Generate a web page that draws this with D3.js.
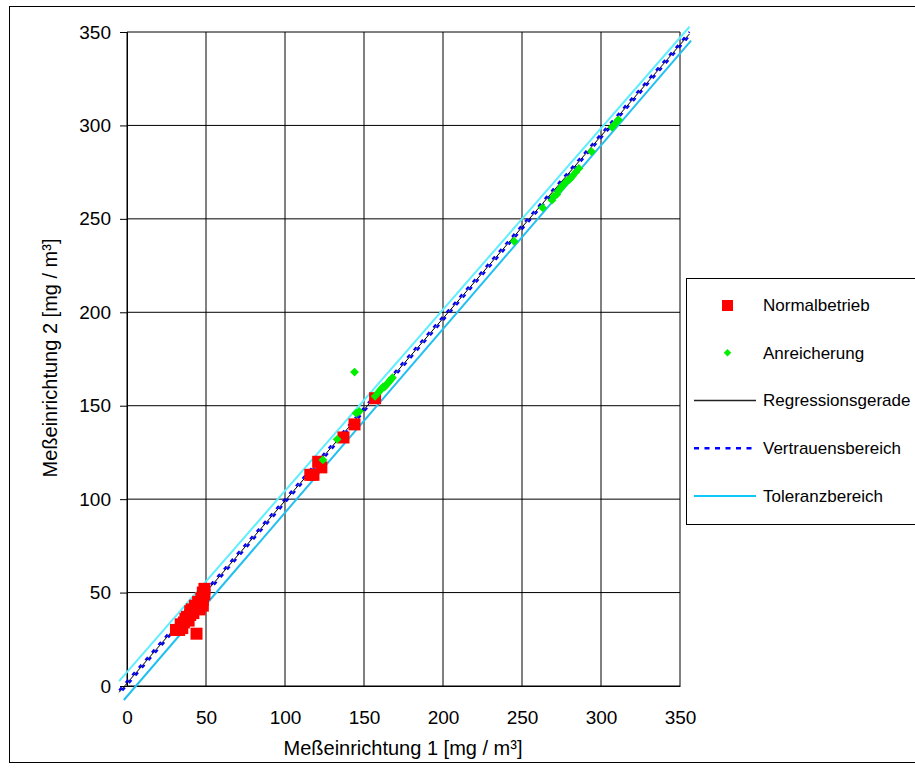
<!DOCTYPE html>
<html>
<head>
<meta charset="utf-8">
<script src="https://cdnjs.cloudflare.com/ajax/libs/d3/7.8.5/d3.min.js"></script>
<style>
  body { margin: 0; background: #fff; }
  text { font-family: "Liberation Sans", Arial, sans-serif; fill: #000; }
</style>
</head>
<body>
<script>
// Normalbetrieb (red squares)
var normX = [31, 33, 35, 34, 36, 37, 38, 39, 40, 40, 41, 42, 43, 44, 45, 46, 46, 47, 48, 48, 49, 49, 48, 44,
             116, 118, 121, 123, 137, 144, 157];
var normY = [30, 30, 31, 33, 34, 36, 37, 35, 38, 40, 41, 39, 43, 42, 45, 44, 41, 47, 46, 43, 49, 52, 50, 28,
             113, 113, 120, 117, 133, 140, 154];

// Anreicherung (green diamonds)
var anrX = [124, 133, 145, 147, 144, 157, 159, 160, 161, 162, 163, 164, 165, 166, 167, 168,
            245, 263, 269, 270, 272, 273, 274, 275, 276, 277, 278, 280, 281, 282, 284, 286, 294, 307, 309, 311];
var anrY = [121, 132, 146, 147, 168, 155, 157, 158, 159, 160, 160, 161, 162, 163, 164, 165,
            238, 256, 260, 262, 263, 265, 266, 267, 268, 269, 270, 271, 272, 273, 275, 277, 286, 299, 301, 303];

// line end points [x0, x1], [y0, y1]
var regX = [-5, 356], regY = [-3.4, 349];
var vbOben = [-2.3, 350.1], vbUnten = [-4.5, 347.9];
var tolObenX = [-5, 356], tolObenY = [2.6, 352.8];
var tolUntenX = [-2, 357], tolUntenY = [-7.5, 345.4];

var ticks = [0, 50, 100, 150, 200, 250, 300, 350];
var legendNames = ["Normalbetrieb", "Anreicherung", "Regressionsgerade", "Vertrauensbereich", "Toleranzbereich"];

var W = 915, H = 769;
var svg = d3.select("body").append("svg").attr("width", W).attr("height", H);
svg.append("rect").attr("width", W).attr("height", H).attr("fill", "#fff");
// outer chart frame
svg.append("rect").attr("x", 9.5).attr("y", 6.5).attr("width", 920).attr("height", 756)
    .attr("fill", "none").attr("stroke", "#000").attr("stroke-width", 1);

var x = d3.scaleLinear().domain([0, 350]).range([127, 680]);
var y = d3.scaleLinear().domain([0, 350]).range([686, 32]);

// grid
var grid = svg.append("g");
grid.selectAll(".gx").data(ticks).enter().append("line")
    .attr("x1", function (d) { return x(d); }).attr("x2", function (d) { return x(d); })
    .attr("y1", y(0)).attr("y2", y(350))
    .attr("stroke", "#000").attr("stroke-width", 1);
grid.selectAll(".gy").data(ticks).enter().append("line")
    .attr("x1", x(0)).attr("x2", x(350))
    .attr("y1", function (d) { return y(d); }).attr("y2", function (d) { return y(d); })
    .attr("stroke", "#000").attr("stroke-width", 1);

// axes
var xAxis = svg.append("g").attr("transform", "translate(0," + y(0) + ")")
    .call(d3.axisBottom(x).tickValues(ticks).tickSize(0).tickPadding(25).tickFormat(d3.format("d")));
var yAxis = svg.append("g").attr("transform", "translate(" + x(0) + ",0)")
    .call(d3.axisLeft(y).tickValues(ticks).tickSize(7).tickPadding(9).tickFormat(d3.format("d")));
[xAxis, yAxis].forEach(function (a) {
    a.select(".domain").attr("stroke", "#000");
    a.selectAll("line").attr("stroke", "#000");
    a.selectAll("text").attr("font-size", 19).attr("font-family", "Liberation Sans, Arial, sans-serif").attr("fill", "#000");
});

// lines
var line = d3.line().x(function (d) { return x(d[0]); }).y(function (d) { return y(d[1]); });
function pts(xs, ys) { return xs.map(function (v, i) { return [v, ys[i]]; }); }

svg.append("path").attr("d", line(pts(tolObenX, tolObenY)))
    .attr("stroke", "#5eeeff").attr("stroke-width", 2).attr("fill", "none");
svg.append("path").attr("d", line(pts(tolUntenX, tolUntenY)))
    .attr("stroke", "#22c0f0").attr("stroke-width", 2).attr("fill", "none");
svg.append("path").attr("d", line(pts(regX, regY)))
    .attr("stroke", "#000").attr("stroke-width", 1).attr("fill", "none");
svg.append("path").attr("d", line(pts(regX, vbOben)))
    .attr("stroke", "#0000ff").attr("stroke-width", 2).attr("stroke-dasharray", "4,6").attr("fill", "none");
svg.append("path").attr("d", line(pts(regX, vbUnten)))
    .attr("stroke", "#0000ff").attr("stroke-width", 2).attr("stroke-dasharray", "4,6")
    .attr("stroke-dashoffset", 5).attr("fill", "none");

// points
var sq = 12;
svg.append("g").selectAll("rect").data(pts(normX, normY)).enter().append("rect")
    .attr("x", function (d) { return x(d[0]) - sq / 2; })
    .attr("y", function (d) { return y(d[1]) - sq / 2; })
    .attr("width", sq).attr("height", sq).attr("fill", "#ff0000");
var diamond = d3.symbol().type(d3.symbolDiamond2).size(50);
svg.append("g").selectAll("path").data(pts(anrX, anrY)).enter().append("path")
    .attr("d", diamond)
    .attr("transform", function (d) { return "translate(" + x(d[0]) + "," + y(d[1]) + ")"; })
    .attr("fill", "#00ee00");

// axis titles
svg.append("text").attr("x", 403).attr("y", 755).attr("text-anchor", "middle")
    .attr("font-size", 20).text("Meßeinrichtung 1 [mg / m³]");
svg.append("text").attr("transform", "translate(57,358) rotate(-90)").attr("text-anchor", "middle")
    .attr("font-size", 20).text("Meßeinrichtung 2 [mg / m³]");

// legend
var leg = svg.append("g");
leg.append("rect").attr("x", 686.5).attr("y", 278.5).attr("width", 240).attr("height", 246)
    .attr("fill", "#fff").attr("stroke", "#000").attr("stroke-width", 1);
var rowY = d3.scalePoint().domain(legendNames).range([305, 496]);
leg.selectAll("text").data(legendNames).enter().append("text")
    .attr("x", 763).attr("y", function (d) { return rowY(d); }).attr("dy", "0.35em")
    .attr("font-size", 17).text(function (d) { return d; });
leg.append("rect").attr("x", 722).attr("y", rowY(legendNames[0]) - 5).attr("width", 11).attr("height", 11)
    .attr("fill", "#ff0000");
leg.append("path").attr("d", d3.symbol().type(d3.symbolDiamond2).size(36))
    .attr("transform", "translate(727.5," + rowY(legendNames[1]) + ")").attr("fill", "#00ee00");
leg.append("line").attr("x1", 694).attr("x2", 756)
    .attr("y1", rowY(legendNames[2])).attr("y2", rowY(legendNames[2]))
    .attr("stroke", "#222").attr("stroke-width", 1.3);
leg.append("line").attr("x1", 694).attr("x2", 756)
    .attr("y1", rowY(legendNames[3])).attr("y2", rowY(legendNames[3]))
    .attr("stroke", "#0000ff").attr("stroke-width", 2.5).attr("stroke-dasharray", "5,5.5");
leg.append("line").attr("x1", 694).attr("x2", 756)
    .attr("y1", rowY(legendNames[4])).attr("y2", rowY(legendNames[4]))
    .attr("stroke", "#10c8f8").attr("stroke-width", 2);
</script>
</body>
</html>
